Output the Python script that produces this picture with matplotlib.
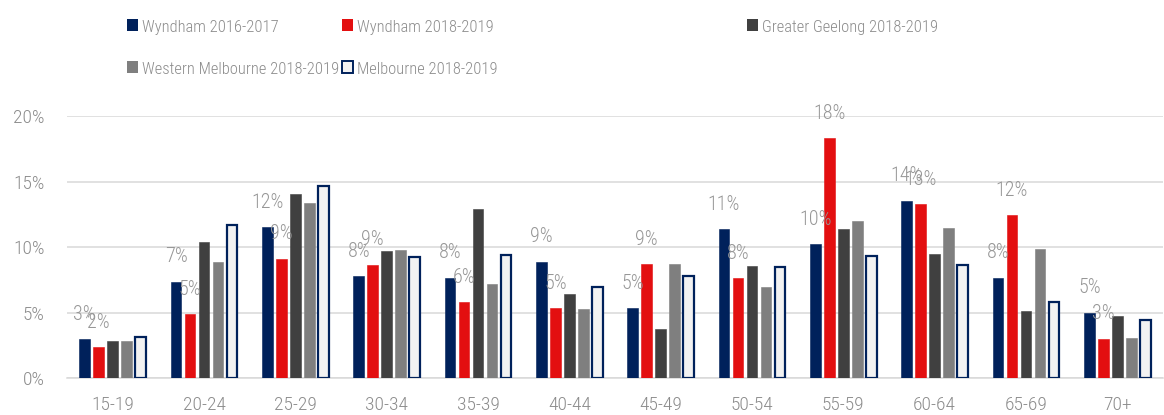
import matplotlib
matplotlib.use("Agg")
import matplotlib.pyplot as plt
from matplotlib.patches import Rectangle
import numpy as np

categories = ["15-19", "20-24", "25-29", "30-34", "35-39", "40-44", "45-49",
              "50-54", "55-59", "60-64", "65-69", "70+"]
series_names = ["Wyndham 2016-2017", "Wyndham 2018-2019", "Greater Geelong 2018-2019",
                "Western Melbourne 2018-2019", "Melbourne 2018-2019"]
wyndham_1617 = [2.98, 7.35, 11.53, 7.78, 7.68, 8.9, 5.34, 11.37, 10.23, 13.55, 7.68, 5.0]
wyndham_1819 = [2.37, 4.88, 9.1, 8.65, 5.8, 5.34, 8.7, 7.63, 18.32, 13.28, 12.44, 3.0]
geelong_1819 = [2.87, 10.38, 14.09, 9.72, 12.92, 6.43, 3.78, 8.57, 11.42, 9.46, 5.11, 4.73]
western_1819 = [2.87, 8.88, 13.4, 9.79, 7.17, 5.26, 8.7, 6.97, 11.98, 11.45, 9.89, 3.1]
melbourne_1819 = [3.13, 11.68, 14.68, 9.26, 9.43, 6.99, 7.83, 8.52, 9.36, 8.67, 5.85, 4.47]
y_ticks = [0, 5, 10, 15, 20]

plt.rcParams['font.family'] = ['Roboto Condensed', 'Roboto', 'DejaVu Sans']
plt.rcParams['font.weight'] = 300

fill_colors = ["#00215B", "#E30F10", "#404040", "#7F7F7F", "#F2F2F2"]
edge_colors = ["#00215B", "#E30F10", "#404040", "#7F7F7F", "#00215B"]
text_gray = "#8C8C8C"
label_gray = "#979797"
grid_gray = "#D9D9D9"

W, H = 1164, 415
fig = plt.figure(figsize=(W / 100, H / 100), dpi=100)
ax = fig.add_axes([67 / W, (H - 378.3) / H, (1163 - 67) / W, (378.3 - 116) / H])

all_series = [wyndham_1617, wyndham_1819, geelong_1819, western_1819, melbourne_1819]
x = np.arange(len(categories))
step = 0.153
width = 0.118
for i, vals in enumerate(all_series):
    off = (i - 2) * step
    lw = 1.6 if i == 4 else 0.4
    ax.bar(x + off, vals, width=width, color=fill_colors[i], edgecolor=edge_colors[i],
           linewidth=lw, zorder=3)
    if i in (0, 1):
        for xi, v in zip(x, vals):
            ax.annotate(f"{v:.0f}%", (xi + off, v), xytext=(0, 18), textcoords="offset points",
                        ha="center", va="center", fontsize=14.5, color=label_gray,
                        fontweight=300, annotation_clip=False, zorder=5)

ax.set_xlim(-0.5, len(categories) - 0.5)
ax.set_ylim(0, 20)
ax.set_yticks(y_ticks)
ax.set_yticklabels([f"{t}%" for t in y_ticks])
ax.set_xticks(x)
ax.set_xticklabels(categories)
ax.yaxis.grid(True, color=grid_gray, linewidth=1.1, zorder=0)
ax.set_axisbelow(True)
for s in ["top", "right", "left"]:
    ax.spines[s].set_visible(False)
ax.spines["bottom"].set_color(grid_gray)
ax.spines["bottom"].set_linewidth(1.1)
ax.tick_params(axis="both", length=0, labelsize=14, labelcolor=text_gray)
ax.tick_params(axis="y", pad=16)
ax.tick_params(axis="x", pad=13)

# legend drawn manually to match the irregular column positions
legend_pos = [(127, 31.7), (342, 31.7), (747, 31.7), (127, 73.5), (342, 73.5)]
for i, (px, py) in enumerate(legend_pos):
    mw, mh = 11, 12
    rect = Rectangle((px / W, (H - py + 0.5) / H), mw / W, mh / H,
                     transform=fig.transFigure, facecolor=fill_colors[i],
                     edgecolor=edge_colors[i], linewidth=1.4 if i == 4 else 0)
    fig.patches.append(rect)
    fig.text((px + 15) / W, (H - py) / H, series_names[i], fontsize=11.9,
             color=text_gray, va="baseline", ha="left", fontweight=300)

fig.savefig("out.png", dpi=100)
